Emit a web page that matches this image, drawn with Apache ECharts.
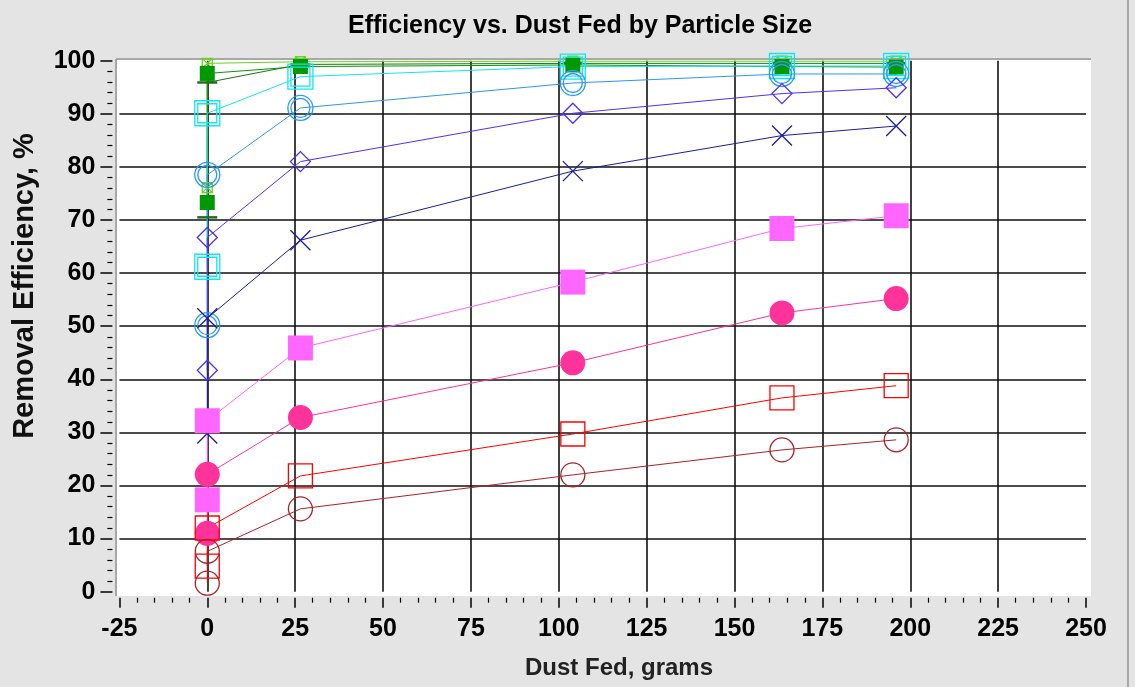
<!DOCTYPE html>
<html><head><meta charset="utf-8">
<script src="https://cdn.jsdelivr.net/npm/echarts@6/dist/echarts.min.js"></script>
<style>html,body{margin:0;padding:0;background:#e4e4e4}#c{width:1135px;height:687px}</style>
</head><body><div id="c"></div>
<script>
// Dust fed (grams) shared by every series (two readings at 0 g)
const dustFed = [0, 0, 26.5, 104, 163.5, 196];
// Removal efficiency (%) per particle-size series
const effDarkGreenDash   = [70.5, 95.9, 99.3, 99.5, 99.5, 99.5];
const effLightGreenBox   = [76.1, 99.5, 99.8, 99.9, 99.9, 99.9];
const effGreenSquare     = [73.3, 97.6, 98.9, 99.2, 98.9, 98.8];
const effCyanDoubleSq    = [61.2, 90.1, 97.0, 98.9, 99.0, 99.0];
const effBlueDoubleCirc  = [50.2, 78.5, 91.1, 95.8, 97.5, 97.5];
const effVioletDiamond   = [41.7, 66.7, 81.0, 90.1, 93.8, 94.9];
const effNavyCross       = [29.8, 51.5, 66.2, 79.2, 85.9, 87.7];
const effMagentaSquare   = [17.3, 32.2, 45.9, 58.3, 68.4, 70.8];
const effPinkCircle      = [11.0, 22.1, 32.8, 43.1, 52.5, 55.2];
const effRedSquare       = [4.8, 12.0, 21.8, 29.7, 36.5, 38.8];
const effDarkRedCircle   = [1.6, 7.6, 15.6, 22.0, 26.7, 28.6];

const xTickValues = [-25, 0, 25, 50, 75, 100, 125, 150, 175, 200, 225, 250];
const yTickValues = [0, 10, 20, 30, 40, 50, 60, 70, 80, 90, 100];

const FONT = '"Liberation Sans", Arial, sans-serif';
const pts = ys => dustFed.map((x, i) => [x, ys[i]]);

const P_DCIRC = 'path://M0,12.5A12.5,12.5,0,1,1,25,12.5A12.5,12.5,0,1,1,0,12.5ZM3,12.5A9.5,9.5,0,1,1,22,12.5A9.5,9.5,0,1,1,3,12.5Z';
const P_DSQ = 'path://M0,0L25,0L25,25L0,25ZM3,3L22,3L22,22L3,22Z';
const P_X = 'path://M0,0L20,20M20,0L0,20';
const P_BOXX = 'path://M0,0L10,0L10,10L0,10ZM0,0L10,10M10,0L0,10';

function mk(name, ys, color, symbol, size, filled) {
  return {
    name, type: 'line', data: pts(ys), symbol, symbolSize: size,
    showAllSymbol: true, clip: false, silent: true,
    lineStyle: { color, width: 1 },
    itemStyle: filled ? { color, borderWidth: 0 } : { color: 'rgba(0,0,0,0)', borderColor: color, borderWidth: 1.3 },
    emphasis: { disabled: true }
  };
}

const series = [
  mk('dash', effDarkGreenDash, '#1f6f1f', 'rect', [20, 2.5], true),
  mk('boxx', effLightGreenBox, '#66d41a', P_BOXX, 10, false),
  mk('gsq', effGreenSquare, '#009a00', 'rect', 15, true),
  mk('cyan', effCyanDoubleSq, '#10e6f0', P_DSQ, 25, false),
  mk('blue', effBlueDoubleCirc, '#2a98f0', P_DCIRC, 25, false),
  mk('diam', effVioletDiamond, '#5030f0', 'diamond', 20, false),
  mk('navy', effNavyCross, '#1c1c9c', P_X, 20, false),
  mk('mag', effMagentaSquare, '#ff66ff', 'rect', 25, true),
  mk('pink', effPinkCircle, '#ff3399', 'circle', 25, true),
  mk('red', effRedSquare, '#ff0000', 'rect', 24, false),
  mk('dred', effDarkRedCircle, '#a82424', 'circle', 24, false)
];

const chart = echarts.init(document.getElementById('c'), null, { renderer: 'canvas' });
chart.setOption({
  backgroundColor: '#e4e4e4',
  animation: false,
  title: {
    text: 'Efficiency vs. Dust Fed by Particle Size',
    left: 343, top: 9,
    textStyle: { fontFamily: FONT, fontSize: 25, fontWeight: 'bold', color: '#000' }
  },
  grid: { left: 119.4, right: 49, top: 60.7, bottom: 95.3, containLabel: false },
  xAxis: {
    type: 'value', min: -25, max: 250, interval: 25, offset: 6,
    axisLine: { show: false, onZero: false },
    axisTick: { show: true, length: 10, lineStyle: { color: '#000', width: 1.5 } },
    minorTick: { show: true, splitNumber: 5, length: 5, lineStyle: { color: '#000', width: 1.2 } },
    axisLabel: { margin: 19, fontFamily: FONT, fontSize: 25, fontWeight: 'bold', color: '#000',
      formatter: v => xTickValues.includes(v) ? String(v) : '' },
    splitLine: { show: true, showMinLine: false, showMaxLine: false, lineStyle: { color: '#111', width: 1.6 } }
  },
  yAxis: {
    type: 'value', min: 0, max: 100, interval: 10, offset: 7,
    axisLine: { show: false, onZero: false },
    axisTick: { show: true, length: 12, lineStyle: { color: '#000', width: 1.5 } },
    minorTick: { show: true, splitNumber: 5, length: 5, lineStyle: { color: '#000', width: 1.2 } },
    axisLabel: { margin: 17, fontFamily: FONT, fontSize: 25, fontWeight: 'bold', color: '#000',
      formatter: v => yTickValues.includes(v) ? String(v) : '' },
    splitLine: { show: true, showMinLine: false, showMaxLine: false, lineStyle: { color: '#111', width: 1.6 } }
  },
  graphic: [
    { type: 'rect', z: -10, silent: true, shape: { x: 116, y: 59, width: 975, height: 537 }, style: { fill: '#ffffff' } },
    { type: 'line', z: -9, silent: true, shape: { x1: 116, y1: 59, x2: 1091, y2: 59 }, style: { stroke: '#a8a8a8', lineWidth: 2 } },
    { type: 'line', z: -9, silent: true, shape: { x1: 116, y1: 59, x2: 116, y2: 596 }, style: { stroke: '#a8a8a8', lineWidth: 2 } },
    { type: 'line', z: -9, silent: true, shape: { x1: 1128, y1: 0, x2: 1128, y2: 687 }, style: { stroke: '#a8a8a8', lineWidth: 2 } },
    { type: 'text', silent: true, x: 25, y: 286, rotation: Math.PI / 2,
      style: { text: 'Removal Efficiency, %', fontFamily: FONT, fontSize: 29, fontWeight: 'bold', fill: '#111', align: 'center', verticalAlign: 'middle' } },
    { type: 'text', silent: true, x: 619, y: 668,
      style: { text: 'Dust Fed, grams', fontFamily: FONT, fontSize: 24, fontWeight: 'bold', fill: '#222', align: 'center', verticalAlign: 'middle' } }
  ],
  series
});
</script>
</body></html>
